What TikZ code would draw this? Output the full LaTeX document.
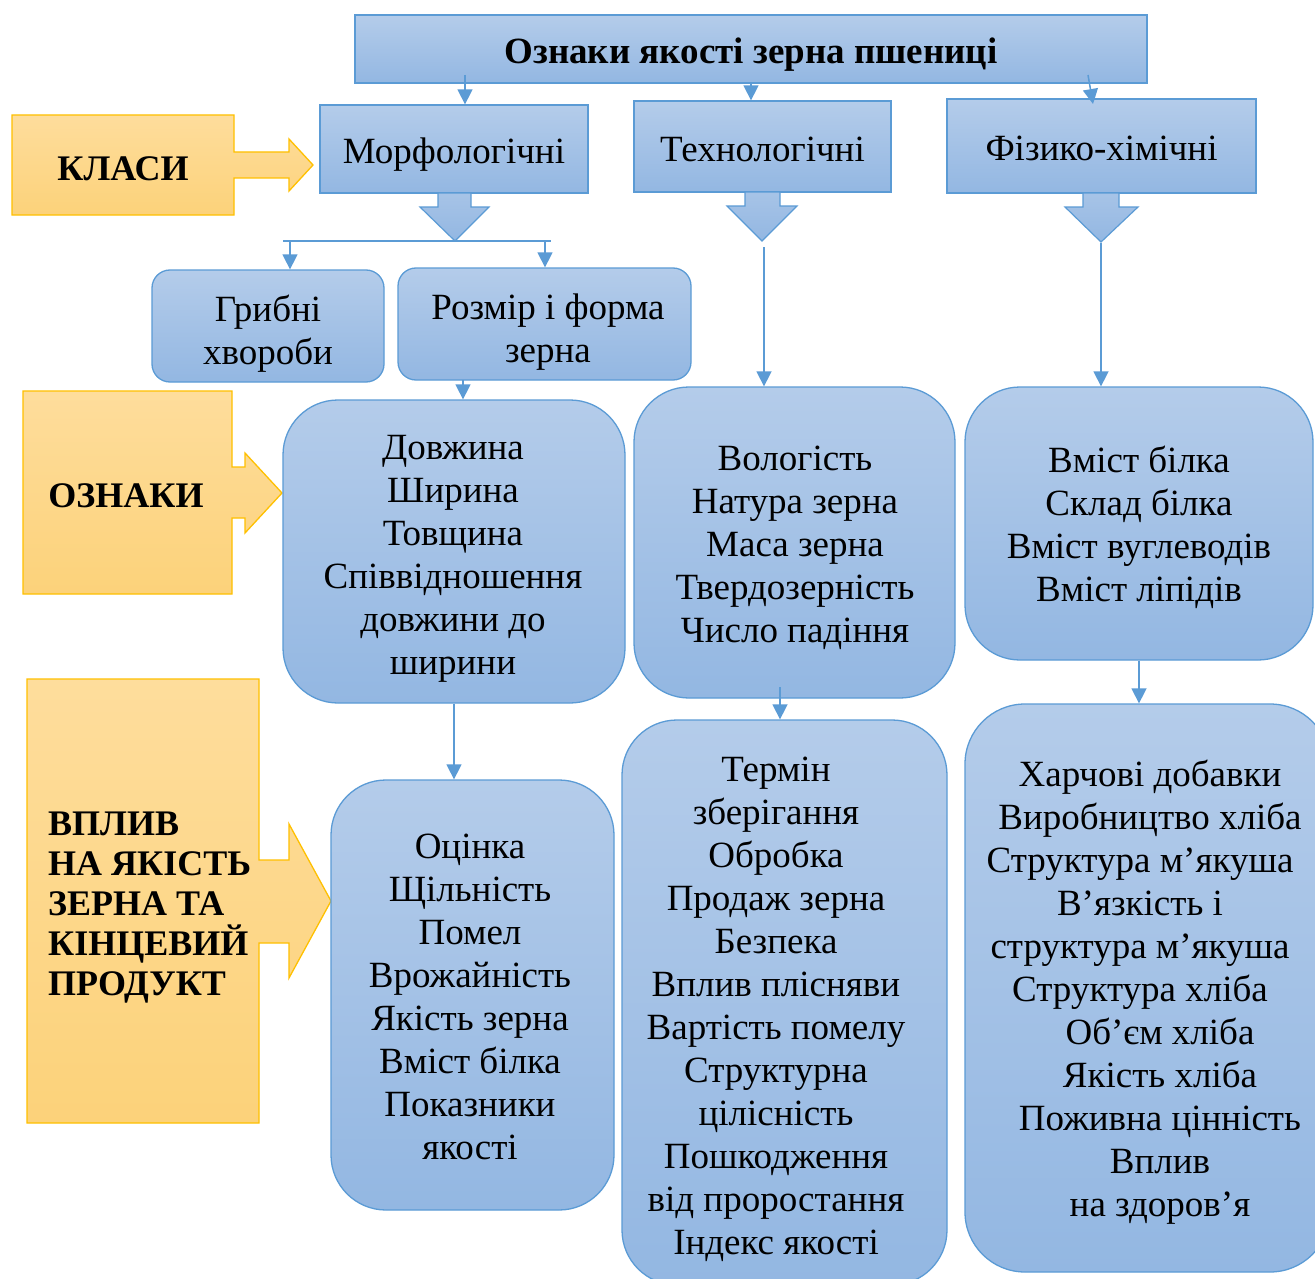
\documentclass[tikz,border=0pt]{standalone}
\usepackage{fontspec}
\setmainfont{Liberation Serif}
\usetikzlibrary{arrows.meta}
\definecolor{btop}{RGB}{180,204,234}
\definecolor{bbot}{RGB}{147,183,226}
\definecolor{bline}{RGB}{91,155,213}
\definecolor{ytop}{RGB}{254,221,156}
\definecolor{ybot}{RGB}{252,210,122}
\definecolor{yline}{RGB}{255,192,0}
\newcommand{\padw}{\rule{20pt}{0pt}}
\begin{document}
\begin{tikzpicture}[x=1pt,y=-1pt,
  bluebox/.style={draw=bline, line width=1.3pt, top color=btop, bottom color=bbot,
    inner sep=0pt},
  txt/.style={inner sep=0pt, align=center, font=\fontsize{37}{43}\selectfont},
  ytxt/.style={inner sep=0pt, font=\bfseries\fontsize{36}{40}\selectfont},
  yshape/.style={draw=yline, line width=1.3pt, top color=ytop, bottom color=ybot},
  barrow/.style={draw=bline, line width=1.2pt, top color=btop!60!bbot, bottom color=bbot},
  conn/.style={draw=bline, line width=1.5pt, -{Triangle[width=15pt,length=15pt]}},
  plainline/.style={draw=bline, line width=1.5pt}]
\useasboundingbox (0,0) rectangle (1315,1279);
\fill[white] (0,0) rectangle (1315,1279);
\clip (0,0) rectangle (1315,1279);

% yellow arrow shapes
\path[yshape] (12,115) -- (234,115) -- (234,152) -- (289,152) -- (289,139) -- (313,165)
  -- (289,191) -- (289,178) -- (234,178) -- (234,215) -- (12,215) -- cycle;
\node[ytxt] (klasi) at (123,169) {КЛАСИ};
\path[yshape] (23,391) -- (232,391) -- (232,467) -- (245,467) -- (245,453) -- (282,493)
  -- (245,533) -- (245,518) -- (232,518) -- (232,594) -- (23,594) -- cycle;
\node[ytxt] (oznaky) at (126,496) {ОЗНАКИ};
\path[yshape] (27,679) -- (259,679) -- (259,860) -- (289,860) -- (289,824) -- (331,901)
  -- (289,978) -- (289,943) -- (259,943) -- (259,1123) -- (27,1123) -- cycle;
\node[ytxt, align=left, anchor=west] (vplyv) at (48,908)
  {ВПЛИВ\\НА ЯКІСТЬ\\ЗЕРНА ТА\\КІНЦЕВИЙ\\ПРОДУКТ};

% title and classes
\node[bluebox, minimum width=792pt, minimum height=68pt] (title) at (751,49) {};
\node[txt, font=\bfseries\fontsize{37}{43}\selectfont] (titletxt) at (751,55) {Ознаки якості зерна пшениці};
\node[bluebox, minimum width=268pt, minimum height=88pt] (morph) at (454,149) {};
\node[txt] (morphtxt) at (454,155) {Морфологічні};
\node[bluebox, minimum width=257pt, minimum height=91pt] (tech) at (762.5,146.5) {};
\node[txt] (techtxt) at (762.5,149.5) {Технологічні};
\node[bluebox, minimum width=309pt, minimum height=94pt] (phys) at (1101.5,146) {};
\node[txt] (phystxt) at (1101.5,148) {Фізико-хімічні};

% second row
\node[bluebox, rounded corners=18pt, minimum width=232pt, minimum height=112pt] (gribni)
  at (268,326) {};
\node[txt] (gribnitxt) at (268,334) {Грибні\\хвороби};
\node[bluebox, rounded corners=18pt, minimum width=293pt, minimum height=112pt] (rozmir)
  at (544.5,324) {};
\node[txt] (rozmirtxt) at (548,332) {Розмір і форма\\зерна};

% third row
\node[bluebox, rounded corners=55pt, minimum width=342pt, minimum height=303pt] (dov)
  at (454,551.5) {};
\node[txt] (dovtxt) at (453,558.5) {Довжина\\Ширина\\Товщина\\Співвідношення\\довжини до\\ширини};
\node[bluebox, rounded corners=55pt, minimum width=321pt, minimum height=311pt] (vol)
  at (794.5,542.5) {};
\node[txt] (voltxt) at (795,547.5) {Вологість\\Натура зерна\\Маса зерна\\Твердозерність\\Число падіння};
\node[bluebox, rounded corners=55pt, minimum width=348pt, minimum height=273pt] (vmist)
  at (1139,523.5) {};
\node[txt] (vmisttxt) at (1139,527.5) {Вміст білка\\Склад білка\\Вміст вуглеводів\\Вміст ліпідів};

% fourth row
\node[bluebox, rounded corners=55pt, minimum width=283pt, minimum height=430pt] (otsinka)
  at (472.5,995) {};
\node[txt] (otsinkatxt) at (470,997)
  {Оцінка\\Щільність\\Помел\\Врожайність\\Якість зерна\\Вміст білка\\Показники\\якості};
\node[bluebox, rounded corners=55pt, minimum width=325pt, minimum height=565pt] (termin)
  at (784.5,1002.5) {};
\node[txt] (termintxt) at (776,1009.5)
  {Термін\\зберігання\\Обробка\\Продаж зерна\\Безпека\\Вплив плісняви\\Вартість помелу\\Структурна\\цілісність\\Пошкодження\\від проростання\\Індекс якості};
\node[bluebox, rounded corners=60pt, minimum width=365pt, minimum height=568pt] (harch)
  at (1147.5,988) {};
\node[txt] (harchtxt) at (1150,992)
  {Харчові добавки\\Виробництво хліба\\Структура м’якуша\padw\\В’язкість і\padw\\структура м’якуша\padw\\Структура хліба\padw\\\padw Об’єм хліба\\\padw Якість хліба\\\padw Поживна цінність\\\padw Вплив\\\padw на здоров’я};

% block arrows
\path[barrow] (438,193) -- (438,207) -- (420,207) -- (455,241) -- (489,207) -- (471,207) -- (471,193) -- cycle;
\path[barrow] (745,192) -- (745,206) -- (727,206) -- (762,241) -- (797,206) -- (780,206) -- (780,192) -- cycle;
\path[barrow] (1083,193) -- (1083,207) -- (1065,207) -- (1101,242) -- (1138,207) -- (1119,207) -- (1119,193) -- cycle;

% connectors
\coordinate (a1) at (465,75);
\draw[conn] (a1) -- (a1 |- morph.north);
\coordinate (a2) at (751,83);
\draw[conn] (a2) -- (a2 |- tech.north);
\coordinate (a3) at (1088,75);
\coordinate (a3e) at (1093,104);
\draw[conn] (a3) -- (a3e);

\coordinate (hl) at (283,241);
\coordinate (hr) at (551,241);
\draw[plainline] (hl) -- (hr);
\coordinate (g1) at (290,242);
\draw[conn] (g1) -- (g1 |- gribni.north);
\coordinate (g2) at (545,242);
\draw[conn] (g2) -- (g2 |- rozmir.north);
\coordinate (r1) at (463,380);
\draw[conn] (r1) -- (r1 |- dov.north);

\coordinate (t1) at (764,247);
\draw[conn] (t1) -- (t1 |- vol.north);
\coordinate (p1) at (1101,243);
\draw[conn] (p1) -- (p1 |- vmist.north);

\draw[conn] (dov.south) -- (dov.south |- otsinka.north);
\coordinate (v1) at (780,687);
\draw[conn] (v1) -- (v1 |- termin.north);
\draw[conn] (vmist.south) -- (vmist.south |- harch.north);
\end{tikzpicture}
\end{document}
